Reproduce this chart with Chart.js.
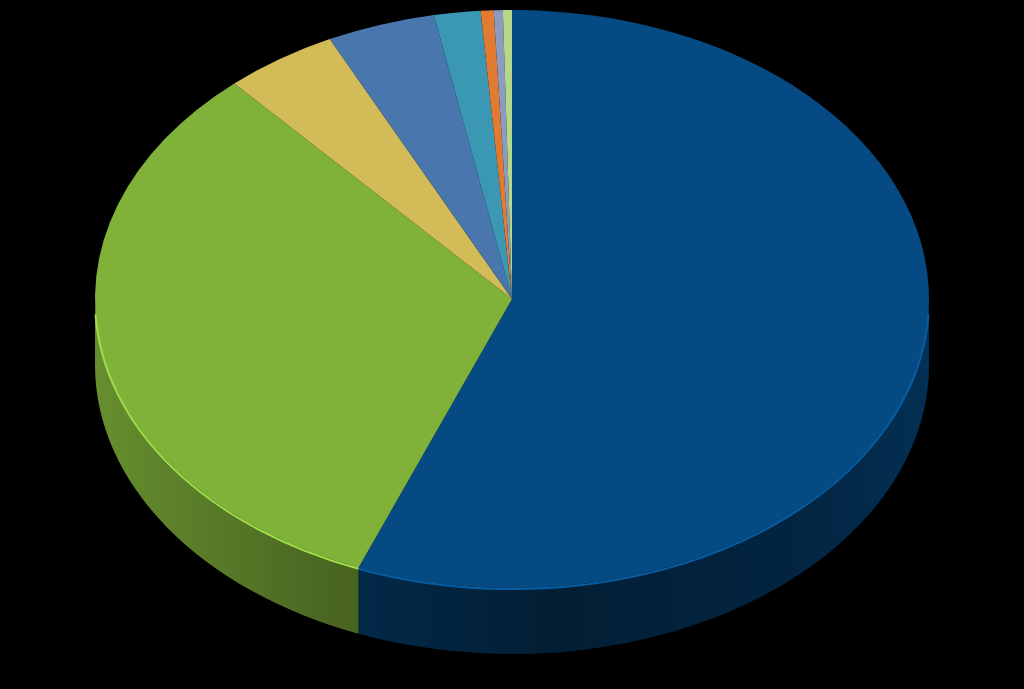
<!DOCTYPE html>
<html lang="en">
<head>
    <meta charset="UTF-8">
    <title>Pie</title>
    <script src="https://cdn.jsdelivr.net/npm/chart.js"></script>
    <style>
        html, body { margin: 0; padding: 0; background: #000; }
        canvas { display: block; }
    </style>
</head>
<body>

<canvas id="pieChart" width="1024" height="689"></canvas>

<script>
    // slice data, clockwise from 12 o'clock
    const labels = ['A', 'B', 'C', 'D', 'E', 'F', 'G', 'H'];
    const values = [56.0, 32.4, 4.4, 4.2, 1.8, 0.5, 0.35, 0.35];
    const colors = ['#054a82', '#80b23a', '#d3bb58', '#4a76ae', '#3a98b4', '#e07b31', '#8c9cc0', '#b5d88a'];

    // look of the tilted disc
    const cx = 512, cy = 299, rx = 417, ry = 289, depth = 66;

    function shade(hex, f) {
        const n = parseInt(hex.slice(1), 16);
        const r = Math.min(255, Math.round(((n >> 16) & 255) * f));
        const g = Math.min(255, Math.round(((n >> 8) & 255) * f));
        const b = Math.min(255, Math.round((n & 255) * f));
        return `rgb(${r},${g},${b})`;
    }

    // squash the round pie into an ellipse and add the side wall
    const tiltPlugin = {
        id: 'tilt',
        beforeDatasetsDraw(chart) {
            const ctx = chart.ctx;
            const arcs = chart.getDatasetMeta(0).data;
            ctx.save();
            // side wall, only the front half shows
            arcs.forEach((arc, i) => {
                let a1 = Math.max(arc.startAngle, 0);
                let a2 = Math.min(arc.endAngle, Math.PI);
                if (a2 <= a1) return;
                const grad = ctx.createLinearGradient(cx - rx, 0, cx + rx, 0);
                grad.addColorStop(0, shade(colors[i], 0.8));
                grad.addColorStop(0.25, shade(colors[i], 0.6));
                grad.addColorStop(0.55, shade(colors[i], 0.4));
                grad.addColorStop(0.85, shade(colors[i], 0.5));
                grad.addColorStop(1, shade(colors[i], 0.65));
                ctx.beginPath();
                ctx.ellipse(cx, cy, rx, ry, 0, a1, a2);
                ctx.ellipse(cx, cy + depth, rx, ry, 0, a2, a1, true);
                ctx.closePath();
                ctx.fillStyle = grad;
                ctx.fill();
            });
            ctx.restore();

            const first = arcs[0];
            ctx.save();
            ctx.translate(cx, cy);
            ctx.scale(rx / first.outerRadius, ry / first.outerRadius);
            ctx.translate(-first.x, -first.y);
        },
        afterDatasetsDraw(chart) {
            const ctx = chart.ctx;
            ctx.restore();
            // light rim along the front edge
            const arcs = chart.getDatasetMeta(0).data;
            ctx.save();
            arcs.forEach((arc, i) => {
                let a1 = Math.max(arc.startAngle, 0.05);
                let a2 = Math.min(arc.endAngle, Math.PI - 0.05);
                if (a2 <= a1) return;
                ctx.beginPath();
                ctx.ellipse(cx, cy + 1, rx, ry, 0, a1, a2);
                ctx.strokeStyle = shade(colors[i], 1.25);
                ctx.lineWidth = 2;
                ctx.stroke();
            });
            ctx.restore();
        }
    };

    new Chart(document.getElementById('pieChart'), {
        type: 'pie',
        data: {
            labels: labels,
            datasets: [{
                data: values,
                backgroundColor: colors,
                borderWidth: 0
            }]
        },
        options: {
            responsive: false,
            animation: false,
            plugins: {
                legend: { display: false },
                tooltip: { enabled: false }
            }
        },
        plugins: [tiltPlugin]
    });
</script>

</body>
</html>
